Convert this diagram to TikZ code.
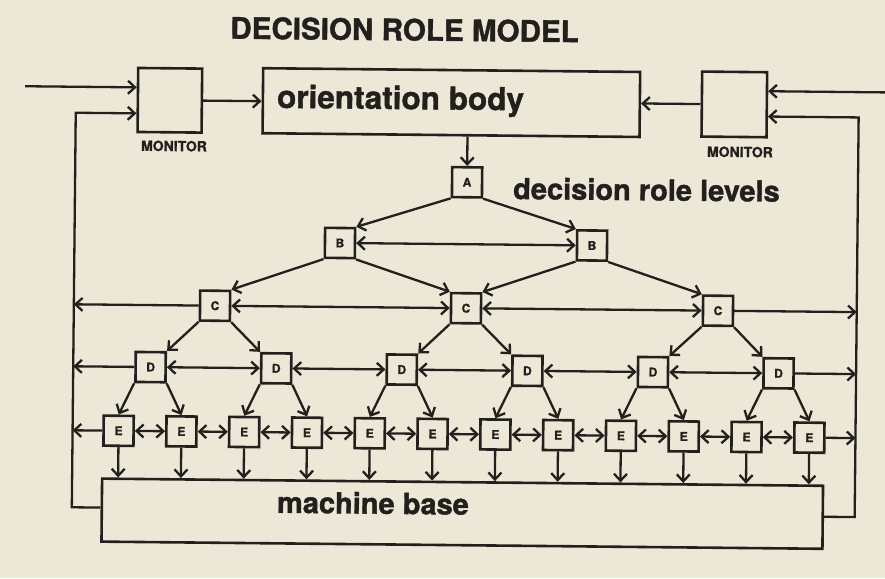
\documentclass[tikz,border=0pt]{standalone}
\usepackage{fontspec}
\setmainfont{TeX Gyre Heros}[BoldFeatures={FakeBold=1.3}]
\usetikzlibrary{arrows.meta}
\definecolor{paper}{RGB}{237,231,215}
\definecolor{ink}{RGB}{34,32,29}
\begin{document}
\begin{tikzpicture}[x=1pt,y=-1pt,
  lvlbox/.style={draw=ink, line width=2.6pt, minimum width=30pt, minimum height=30pt, inner sep=0pt,
    font=\bfseries\fontsize{12}{12}\selectfont, text=ink},
  bigbox/.style={draw=ink, line width=2.6pt, inner sep=0pt},
  conn/.style={draw=ink, line width=2.3pt},
  arr/.style={conn, -{Straight Barb[length=7pt,width=13pt]}},
  darr/.style={conn, {Straight Barb[length=7pt,width=13pt]}-{Straight Barb[length=7pt,width=13pt]}},
  big/.style={font=\bfseries\fontsize{29}{29}\selectfont, text=ink, inner sep=0pt},
  small/.style={font=\bfseries\fontsize{14}{14}\selectfont, text=ink, inner sep=0pt},
]
\fill[paper] (0,0) rectangle (885,578);
\useasboundingbox (0,0) rectangle (885,578);
\begin{scope}[rotate around={-0.57:(442,289)}, transform shape]
% title and labels
\node[big, font=\bfseries\fontsize{29.6}{29.6}\selectfont] (title) at (402,30) {DECISION ROLE MODEL};
% monitors and bodies
\node[bigbox, minimum width=64pt, minimum height=64pt] (monL) at (168,103) {};
\node[small] (monLlab) at (172.6,148.7) {MONITOR};
\node[bigbox, minimum width=65pt, minimum height=65pt] (monR) at (732.5,101.5) {};
\node[small] (monRlab) at (738.6,149) {MONITOR};
\node[bigbox, minimum width=377pt, minimum height=65pt] (body) at (449.5,102.5) {};
\node[big, font=\bfseries\fontsize{31.5}{31.5}\selectfont, anchor=base west] (bodylab) at (275,109.5) {orientation body};
\node[bigbox, minimum width=721pt, minimum height=63pt] (base) at (464.5,513.5) {};
\node[big, anchor=base west] (baselab) at (279,514.4) {machine base};
\node[big, anchor=base west] (levlab) at (512,198.3) {decision role levels};
% level boxes
\node[lvlbox] (A) at (466,182) {A};
\node[lvlbox] (B1) at (339.5,244) {B};
\node[lvlbox] (B2) at (591.6,244) {B};
\foreach \x [count=\i] in {215.2,466.2,718.2} \node[lvlbox] (C\i) at (\x,308) {C};
\foreach \x [count=\i] in {151.4,277,402.6,528.2,653.8,779.4} \node[lvlbox] (D\i) at (\x,370) {D};
\foreach \x [count=\i] in {120,182.8,245.6,308.4,371.2,434,496.8,559.6,622.4,685.2,748,810.8}
  \node[lvlbox] (E\i) at (\x,434) {E};
% feedback rails
\coordinate (lvTop) at (74,116.4);
\coordinate (lvBot) at (74,511);
\coordinate (rvTop) at (857,113.3);
\coordinate (rvBot) at (857,513);
\coordinate (inL) at (23,90.4);
\coordinate (inR) at (890,88);
% monitor connections
\draw[arr] (inL) -- (inL -| monL.west);
\draw[arr] (lvBot -| base.west) -- (lvBot) -- (lvTop) -- (lvTop -| monL.west);
\draw[arr] (inR) -- (inR -| monR.east);
\draw[arr] (rvBot -| base.east) -- (rvBot) -- (rvTop) -- (rvTop -| monR.east);
\draw[arr] (monL.east) -- (monL.east -| body.west);
\draw[arr] (monR.west) -- (monR.west -| body.east);
\draw[arr] (A |- body.south) -- (A.north);
% A to B
\draw[arr] (A.south west) -- (B1.north east);
\draw[arr] (A.south east) -- (B2.north west);
\draw[darr] (B1.east) -- (B2.west);
% B to C
\draw[arr] (B1.south west) -- (C1.north east);
\draw[arr] (B1.south east) -- (C2.north west);
\draw[arr] (B2.south west) -- (C2.north east);
\draw[arr] (B2.south east) -- (C3.north west);
\draw[arr] (C1.west) -- (C1.west -| lvTop);
\draw[darr] (C1.east) -- (C2.west);
\draw[darr] (C2.east) -- (C3.west);
\draw[arr] (C3.east) -- (C3.east -| rvTop);
% C to D
\foreach \i in {1,2,3} {
  \pgfmathtruncatemacro\a{2*\i-1}
  \pgfmathtruncatemacro\b{2*\i}
  \draw[arr] (C\i.south west) -- (D\a.north east);
  \draw[arr] (C\i.south east) -- (D\b.north west);
}
\draw[arr] (D1.west) -- (D1.west -| lvTop);
\foreach \i in {1,...,5} {
  \pgfmathtruncatemacro\j{\i+1}
  \draw[darr] (D\i.east) -- (D\j.west);
}
\draw[arr] (D6.east) -- (D6.east -| rvTop);
% D to E
\foreach \i in {1,...,6} {
  \pgfmathtruncatemacro\a{2*\i-1}
  \pgfmathtruncatemacro\b{2*\i}
  \draw[arr] (D\i.south west) -- (E\a.north);
  \draw[arr] (D\i.south east) -- (E\b.north);
}
\draw[arr] (E1.west) -- (E1.west -| lvTop);
\foreach \i in {1,...,11} {
  \pgfmathtruncatemacro\j{\i+1}
  \draw[darr] (E\i.east) -- (E\j.west);
}
\draw[arr] (E12.east) -- (E12.east -| rvTop);
% E to machine base
\foreach \i in {1,...,12} \draw[arr] (E\i.south) -- (E\i.south |- base.north);
\end{scope}
\end{tikzpicture}
\end{document}
